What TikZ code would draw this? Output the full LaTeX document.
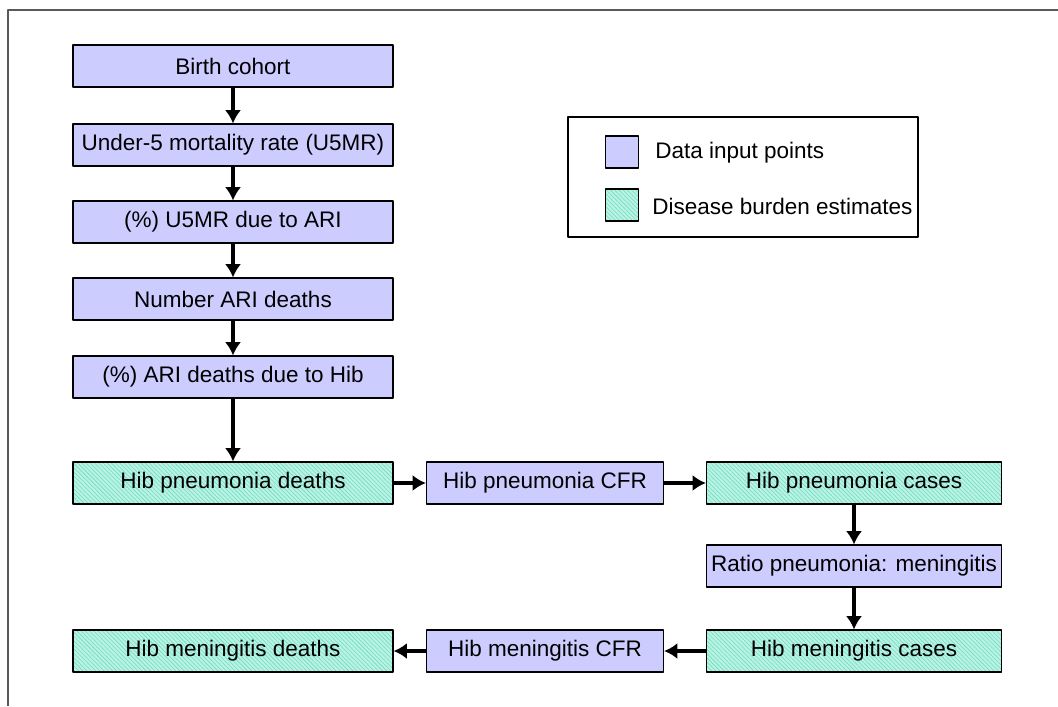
\documentclass[tikz,border=0pt]{standalone}
\usepackage{fontspec}
\setmainfont{Liberation Sans}
\usetikzlibrary{arrows.meta,patterns}

\definecolor{inputblue}{RGB}{204,204,255}
\definecolor{burdenbase}{RGB}{186,242,228}
\definecolor{burdenline}{RGB}{112,222,192}
\definecolor{framegray}{RGB}{90,90,90}

\begin{document}
\begin{tikzpicture}[x=0.025cm, y=-0.025cm, >={Latex[length=3.3mm,width=4mm]}, line join=round,
    every node/.style={font=\fontsize{16}{19}\selectfont, inner sep=0pt},
    inbox/.style={draw=black, line width=0.8pt, fill=inputblue, minimum height=1.05cm},
    estbox/.style={draw=black, line width=0.8pt, minimum height=1.05cm,
        preaction={fill=burdenbase}, pattern=north west lines, pattern color=burdenline},
    flow/.style={->, line width=2.8pt}]
            \useasboundingbox (0,0) rectangle (1058,706);

            % frame, only its top and left sides show
            \draw[framegray, line width=1.4pt] (1058,10) -- (8,10) -- (8,706);

            % left column
            \node[inbox, minimum width=8cm] (cohort) at (233,66) {Birth cohort};
            \node[inbox, minimum width=8cm] (ufive) at (233,145) {Under-5 mortality rate (U5MR)};
            \node[inbox, minimum width=8cm] (ufiveari) at (233,222) {(\%) U5MR due to ARI};
            \node[inbox, minimum width=8cm] (arideaths) at (233,299) {Number ARI deaths};
            \node[inbox, minimum width=8cm] (arihib) at (233,377) {(\%) ARI deaths due to Hib};

            % pneumonia row
            \node[estbox, minimum width=8cm] (pdeaths) at (233,483) {Hib pneumonia deaths};
            \node[inbox, minimum width=5.925cm] (pcfr) at (545,483) {Hib pneumonia CFR};
            \node[estbox, minimum width=7.375cm] (pcases) at (854,483) {Hib pneumonia cases};

            \node[inbox, minimum width=7.375cm] (ratio) at (854,566) {Ratio pneumonia: meningitis};

            % meningitis row
            \node[estbox, minimum width=7.375cm] (mcases) at (854,651) {Hib meningitis cases};
            \node[inbox, minimum width=5.925cm] (mcfr) at (545,651) {Hib meningitis CFR};
            \node[estbox, minimum width=8cm] (mdeaths) at (233,651) {Hib meningitis deaths};

            \draw[flow] (cohort) -- (ufive);
            \draw[flow] (ufive) -- (ufiveari);
            \draw[flow] (ufiveari) -- (arideaths);
            \draw[flow] (arideaths) -- (arihib);
            \draw[flow] (arihib) -- (pdeaths);
            \draw[flow] (pdeaths) -- (pcfr);
            \draw[flow] (pcfr) -- (pcases);
            \draw[flow] (pcases) -- (ratio);
            \draw[flow] (ratio) -- (mcases);
            \draw[flow] (mcases) -- (mcfr);
            \draw[flow] (mcfr) -- (mdeaths);

            % legend
            \node[draw=black, line width=0.8pt, minimum width=8.75cm, minimum height=3cm] (legend) at (743,177) {};
            \node[inbox, minimum width=0.83cm, minimum height=0.8cm] (keyin) at (622,152) {};
            \node[estbox, minimum width=0.83cm, minimum height=0.8cm] (keyest) at (622,205) {};
            \node[anchor=west] (keyintext) at (655,153) {Data input points};
            \node[anchor=west] (keyesttext) at (652,206) {Disease burden estimates};

        \end{tikzpicture}
\end{document}
